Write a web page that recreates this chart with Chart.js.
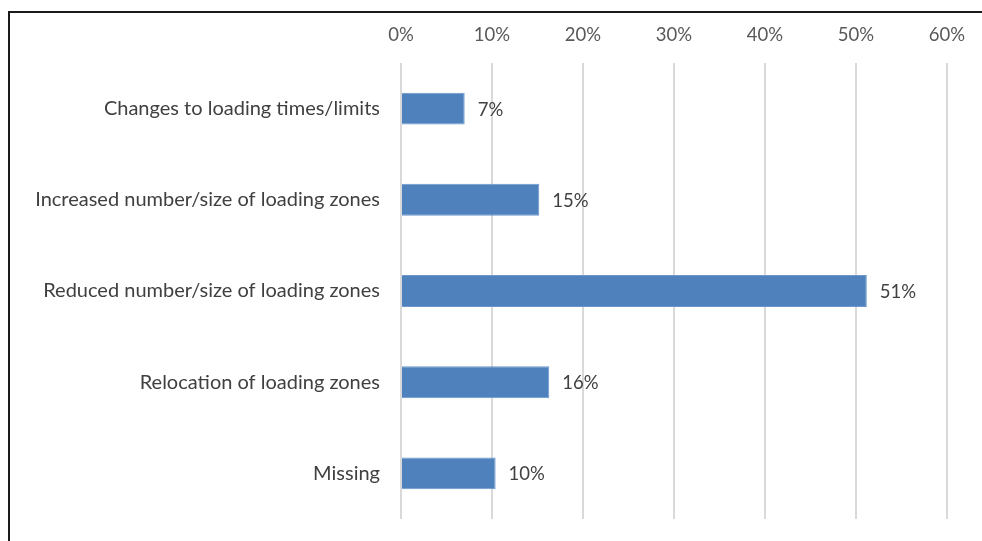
<!DOCTYPE html>
<html>
<head>
<meta charset="utf-8">
<script src="https://cdn.jsdelivr.net/npm/chart.js@4"></script>
<style>
    html, body { margin: 0; background: #fff; overflow: hidden; }
    #frame {
        position: absolute; left: 8px; top: 11px; width: 990px; height: 600px;
        border-left: 2px solid #1a1a1a; border-top: 2px solid #1a1a1a;
    }
    #wrap { position: absolute; left: 0; top: 0; width: 982px; height: 541px; }
</style>
</head>
<body>
<div id="frame"></div>
<div id="wrap"><canvas id="chart"></canvas></div>
<script>
// Dados do gráfico
const categorias = [
    'Changes to loading times/limits',
    'Increased number/size of loading zones',
    'Reduced number/size of loading zones',
    'Relocation of loading zones',
    'Missing'
];
const valores = [7.0, 15.2, 51.2, 16.3, 10.4];
const ticksX = [0, 10, 20, 30, 40, 50, 60];

const fonte = "Lato, 'Open Sans', sans-serif";

// Rótulos no fim das barras
const rotulosPlugin = {
    id: 'rotulos',
    afterDatasetsDraw(chart) {
        const ctx = chart.ctx;
        const meta = chart.getDatasetMeta(0);
        ctx.save();
        ctx.font = `18.5px ${fonte}`;
        ctx.fillStyle = '#404040';
        ctx.textBaseline = 'middle';
        ctx.textAlign = 'left';
        meta.data.forEach((bar, i) => {
            ctx.fillText(Math.round(valores[i]) + '%', bar.x + 13, bar.y + 1);
        });
        ctx.restore();
    }
};

new Chart(document.getElementById('chart'), {
    type: 'bar',
    data: {
        labels: categorias,
        datasets: [{
            data: valores,
            backgroundColor: '#4F81BD',
            borderColor: '#6b97cc',
            borderWidth: 1,
            barPercentage: 0.35,
            categoryPercentage: 1
        }]
    },
    options: {
        indexAxis: 'y',
        responsive: true,
        maintainAspectRatio: false,
        animation: false,
        layout: { padding: { top: 0, right: 35, bottom: 22, left: 0 } },
        plugins: {
            legend: { display: false },
            tooltip: { enabled: false }
        },
        scales: {
            x: {
                position: 'top',
                min: 0,
                max: 60,
                afterBuildTicks: (scale) => { scale.ticks = ticksX.map(v => ({ value: v })); },
                afterFit: (scale) => { scale.height = 63; },
                grid: { color: '#d9d9d9', lineWidth: 2, drawTicks: false },
                border: { display: false },
                ticks: {
                    padding: 17,
                    color: '#595959',
                    font: { family: fonte, size: 18.5 },
                    callback: (v) => v + '%'
                }
            },
            y: {
                afterFit: (scale) => {
                    scale.width = 401;
                    scale.paddingTop = 0;
                    scale.paddingBottom = 0;
                },
                grid: { display: false, drawTicks: false },
                border: { display: false },
                ticks: {
                    padding: 21,
                    color: '#404040',
                    font: { family: fonte, size: 20 }
                }
            }
        }
    },
    plugins: [rotulosPlugin]
});
</script>
</body>
</html>
